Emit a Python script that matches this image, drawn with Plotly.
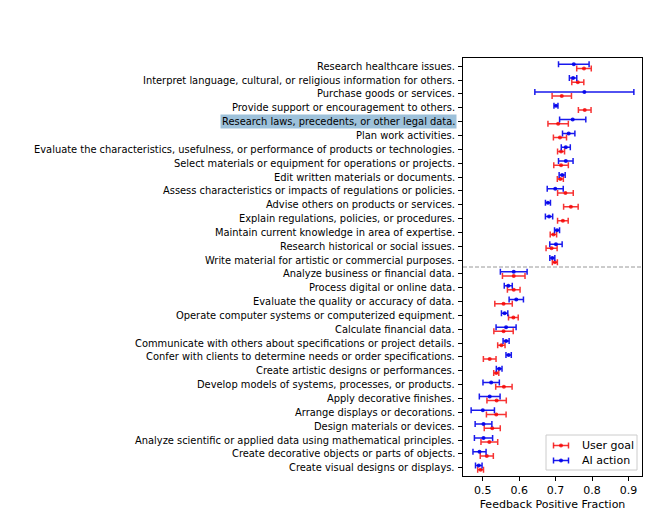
import plotly.graph_objects as go

labels = [
    "Research healthcare issues.",
    "Interpret language, cultural, or religious information for others.",
    "Purchase goods or services.",
    "Provide support or encouragement to others.",
    "Research laws, precedents, or other legal data.",
    "Plan work activities.",
    "Evaluate the characteristics, usefulness, or performance of products or technologies.",
    "Select materials or equipment for operations or projects.",
    "Edit written materials or documents.",
    "Assess characteristics or impacts of regulations or policies.",
    "Advise others on products or services.",
    "Explain regulations, policies, or procedures.",
    "Maintain current knowledge in area of expertise.",
    "Research historical or social issues.",
    "Write material for artistic or commercial purposes.",
    "Analyze business or financial data.",
    "Process digital or online data.",
    "Evaluate the quality or accuracy of data.",
    "Operate computer systems or computerized equipment.",
    "Calculate financial data.",
    "Communicate with others about specifications or project details.",
    "Confer with clients to determine needs or order specifications.",
    "Create artistic designs or performances.",
    "Develop models of systems, processes, or products.",
    "Apply decorative finishes.",
    "Arrange displays or decorations.",
    "Design materials or devices.",
    "Analyze scientific or applied data using mathematical principles.",
    "Create decorative objects or parts of objects.",
    "Create visual designs or displays.",
]

user_goal = [0.778, 0.761, 0.717, 0.780, 0.707, 0.712, 0.715, 0.715, 0.713, 0.727,
             0.742, 0.720, 0.694, 0.689, 0.698, 0.585, 0.585, 0.557, 0.584, 0.557,
             0.551, 0.519, 0.537, 0.558, 0.538, 0.537, 0.526, 0.518, 0.511, 0.494]
user_goal_err = [0.020, 0.0165, 0.0266, 0.0174, 0.028, 0.018, 0.0096, 0.020, 0.0083, 0.0215,
                 0.020, 0.0146, 0.0088, 0.0152, 0.0069, 0.031, 0.0174, 0.024, 0.0133, 0.0266,
                 0.0101, 0.0174, 0.007, 0.0225, 0.0266, 0.027, 0.022, 0.023, 0.018, 0.008]
ai_action = [0.750, 0.748, 0.779, 0.701, 0.747, 0.736, 0.728, 0.728, 0.718, 0.699,
             0.679, 0.682, 0.704, 0.701, 0.691, 0.585, 0.570, 0.592, 0.560, 0.564,
             0.564, 0.571, 0.545, 0.523, 0.519, 0.500, 0.502, 0.502, 0.491, 0.489]
ai_action_err = [0.042, 0.0102, 0.136, 0.0055, 0.036, 0.017, 0.0124, 0.020, 0.0083, 0.022,
                 0.0069, 0.010, 0.0069, 0.017, 0.0069, 0.0367, 0.011, 0.0197, 0.0087, 0.0275,
                 0.0083, 0.0073, 0.0078, 0.0225, 0.0285, 0.032, 0.023, 0.025, 0.018, 0.009]

highlight_label = "Research laws, precedents, or other legal data."
split_after = 14
x_ticks = [0.5, 0.6, 0.7, 0.8, 0.9]

RED = "rgba(245,0,0,0.8)"
BLUE = "rgba(0,0,235,0.9)"
FONT = "DejaVu Sans"

W, H = 651, 516
ML, MR, MT, MB = 455, 17, 50, 48
PW, PH = W - ML - MR, H - MT - MB


def px(x):
    return (x - ML) / PW


def py(y):
    return (H - MB - y) / PH


n = len(labels)
pos = list(range(n))
off = 0.15

lo = min(min(a - e for a, e in zip(ai_action, ai_action_err)),
         min(a - e for a, e in zip(user_goal, user_goal_err)))
hi = max(max(a + e for a, e in zip(ai_action, ai_action_err)),
         max(a + e for a, e in zip(user_goal, user_goal_err)))
pad = 0.05 * (hi - lo)

fig = go.Figure()
fig.add_trace(go.Scatter(
    x=user_goal, y=[p + off for p in pos], mode="markers",
    marker=dict(color=RED, size=4),
    error_x=dict(type="data", array=user_goal_err, color=RED, thickness=1.5, width=3),
    name="User goal", showlegend=False))
fig.add_trace(go.Scatter(
    x=ai_action, y=[p - off for p in pos], mode="markers",
    marker=dict(color=BLUE, size=4),
    error_x=dict(type="data", array=ai_action_err, color=BLUE, thickness=1.5, width=3),
    name="AI action", showlegend=False))

# separator line
fig.add_shape(type="line", xref="x domain", yref="y", x0=0, x1=1,
              y0=split_after + 0.5, y1=split_after + 0.5,
              line=dict(color="#8c8c8c", width=0.9, dash="4px,2px"))

# y labels
for i, lab in enumerate(labels):
    hl = lab == highlight_label
    fig.add_annotation(
        x=0, xref="paper", y=i, yref="y", text=lab, showarrow=False,
        xanchor="right", yanchor="middle", xshift=-6,
        font=dict(family=FONT, size=9.9, color="black"),
        bgcolor="#9dc1da" if hl else None, borderpad=1)

# manual legend
bx0, bx1, by0, by1 = 538, 629, 427, 462
fig.add_shape(type="rect", xref="paper", yref="paper",
              x0=px(bx0), x1=px(bx1), y0=py(by1), y1=py(by0),
              line=dict(color="#cccccc", width=1), fillcolor="rgba(255,255,255,0.8)")
for name, col, yy in [("User goal", RED, 437.5), ("AI action", BLUE, 452.5)]:
    fig.add_shape(type="line", xref="paper", yref="paper",
                  x0=px(545.5), x1=px(560.5), y0=py(yy), y1=py(yy),
                  line=dict(color=col, width=1.5))
    for cx in (545.5, 560.5):
        fig.add_shape(type="line", xref="paper", yref="paper",
                      x0=px(cx), x1=px(cx), y0=py(yy - 3), y1=py(yy + 3),
                      line=dict(color=col, width=1.5))
    fig.add_shape(type="circle", xref="paper", yref="paper",
                  x0=px(551), x1=px(555), y0=py(yy + 2), y1=py(yy - 2),
                  fillcolor=col, line=dict(width=0))
    fig.add_annotation(x=px(572), y=py(yy), xref="paper", yref="paper", text=name,
                       showarrow=False, xanchor="left", yanchor="middle",
                       font=dict(family=FONT, size=11, color="black"))

fig.update_layout(
    width=W, height=H, margin=dict(l=ML, r=MR, t=MT, b=MB),
    paper_bgcolor="white", plot_bgcolor="white",
    font=dict(family=FONT, size=11, color="black"),
    showlegend=False,
)
fig.update_xaxes(range=[lo - pad, hi + pad], tickvals=x_ticks,
                 ticktext=[f"{v:.1f}" for v in x_ticks],
                 showgrid=False, zeroline=False, showline=True, mirror=True,
                 linecolor="black", linewidth=1, ticks="outside", ticklen=4,
                 tickcolor="black", tickfont=dict(family=FONT, size=11),
                 title=dict(text="Feedback Positive Fraction", standoff=4,
                            font=dict(family=FONT, size=11)))
fig.update_yaxes(range=[n - 0.4, -0.6], tickvals=pos, showticklabels=False,
                 showgrid=False, zeroline=False, showline=True, mirror=True,
                 linecolor="black", linewidth=1, ticks="outside", ticklen=4,
                 tickcolor="black")

fig.write_html("out.html")
